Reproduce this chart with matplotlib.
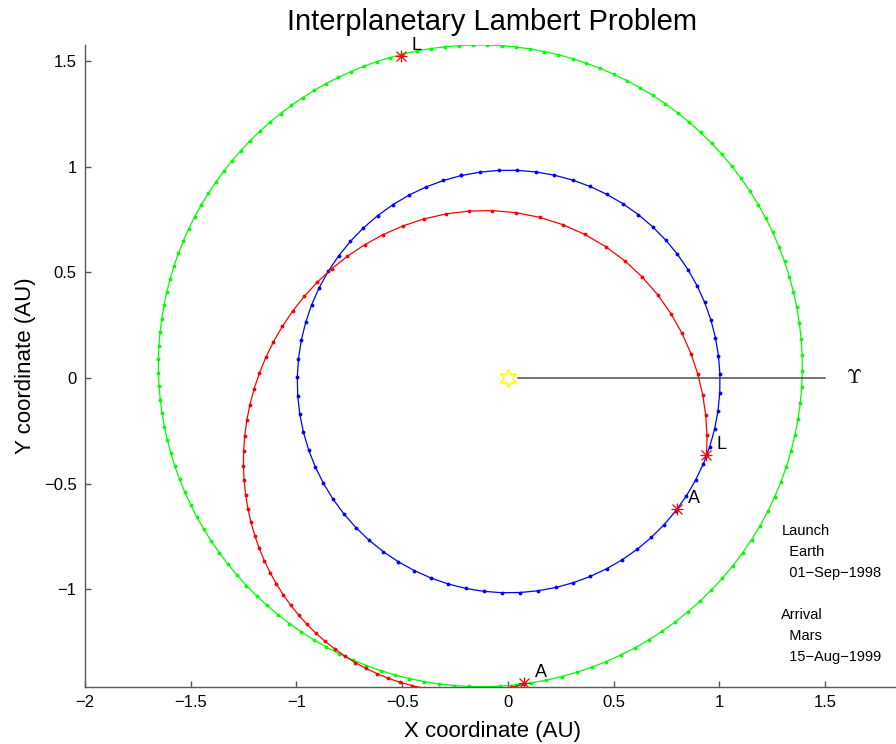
import numpy as np
import matplotlib
matplotlib.use('Agg')
import matplotlib.pyplot as plt

plt.rcParams['font.family'] = ['Liberation Sans', 'DejaVu Sans']

# orbits: semi-major axis (AU), eccentricity,
# longitude of perihelion (deg), arc drawn (true anomaly, deg), dots
orbit_names = ['Earth', 'Mars', 'Transfer']
semi_major = [1.0, 1.524, 1.15]
eccentricity = [0.0167, 0.0934, 0.33]
perihelion_lon = [102.9, 336.0, 66.0]
nu_start = [0.0, 0.0, -87.2]
nu_end = [360.0, 360.0, 207.0]
n_dots = [73, 138, 70]
orbit_colors = ['#0000ff', '#00ff00', '#ff0000']

# planet positions at launch (L) and arrival (A)
event_labels = ['L', 'L', 'A', 'A']
event_x = [0.938, -0.507, 0.801, 0.076]
event_y = [-0.364, 1.524, -0.620, -1.443]

info_lines = ['Launch', '  Earth', '  01\u2212Sep\u22121998', '',
              'Arrival', '  Mars', '  15\u2212Aug\u22121999']


def orbitPoints(a, e, w, nu0, nu1, n):
    # evenly spaced in time between two true anomalies
    def meanAnomaly(nu):
        nu = np.radians(nu)
        E = 2 * np.arctan2(np.sqrt(1 - e) * np.sin(nu / 2),
                           np.sqrt(1 + e) * np.cos(nu / 2))
        return E - e * np.sin(E)
    M = np.linspace(meanAnomaly(nu0), meanAnomaly(nu1), n)
    E = M.copy()
    for _ in range(30):
        E = E - (E - e * np.sin(E) - M) / (1 - e * np.cos(E))
    xo = a * (np.cos(E) - e)
    yo = a * np.sqrt(1 - e * e) * np.sin(E)
    w = np.radians(w)
    return xo * np.cos(w) - yo * np.sin(w), xo * np.sin(w) + yo * np.cos(w)


fig = plt.figure(figsize=(8.96, 7.44), dpi=100)
ax = fig.add_axes([85 / 896, 57 / 744, 814 / 896, 642 / 744])

for i in range(len(orbit_names)):
    x, y = orbitPoints(semi_major[i], eccentricity[i], perihelion_lon[i],
                       nu_start[i], nu_end[i], n_dots[i])
    ax.plot(x, y, '-', color=orbit_colors[i], lw=0.9,
            marker='.', ms=3.5)

# sun and vernal equinox direction
ax.plot([0.05, 1.5], [0, 0], color='0.3', lw=1.1)
ax.plot(0, 0, marker=(6, 1, 0), ms=13, mfc='white', mec='#ffff00', mew=1.2)
ax.text(1.6, 0, r'$\Upsilon$', fontsize=14, ha='left', va='center',
        math_fontfamily='cm')

for lab, px, py in zip(event_labels, event_x, event_y):
    ax.plot(px, py, '+', color='#ff0000', ms=9, mew=0.9)
    ax.plot(px, py, 'x', color='#ff0000', ms=6.5, mew=0.9)
    ax.text(px + 0.05, py + 0.05, lab, fontsize=13, ha='left', va='center')

for k, line in enumerate(info_lines):
    ax.annotate(line, (1.294, -0.724), xytext=(0, -15.1 * k),
                textcoords='offset points', fontsize=10.5,
                ha='left', va='center')

ax.set_xlim(-2, 1.85)
ax.set_ylim(-1.462, 1.576)
ax.set_xticks([-2, -1.5, -1, -0.5, 0, 0.5, 1, 1.5])
ax.set_yticks([-1, -0.5, 0, 0.5, 1, 1.5])
ax.set_xticklabels(['\u22122', '\u22121.5', '\u22121', '\u22120.5', '0', '0.5', '1', '1.5'])
ax.set_yticklabels(['\u22121', '\u22120.5', '0', '0.5', '1', '1.5'])
for s in ['top', 'right']:
    ax.spines[s].set_visible(False)
for s in ['left', 'bottom']:
    ax.spines[s].set_color('0.35')
    ax.spines[s].set_linewidth(1.0)
ax.tick_params(direction='in', length=4, width=1, color='0.35',
               labelsize=12, pad=6)
ax.set_xlabel('X coordinate (AU)', fontsize=16, labelpad=8)
ax.set_ylabel('Y coordinate (AU)', fontsize=16, labelpad=6)
ax.set_title('Interplanetary Lambert Problem', fontsize=21, pad=11)

fig.savefig('out.png', dpi=100)
